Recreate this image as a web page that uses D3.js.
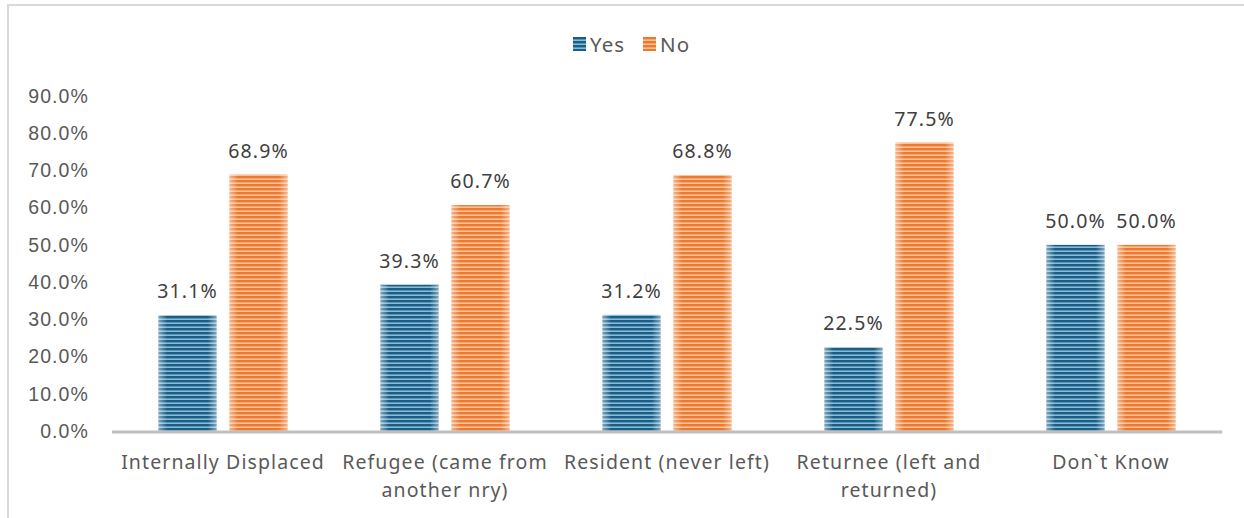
<!DOCTYPE html>
<html>
<head>
<meta charset="utf-8">
<script src="https://cdn.jsdelivr.net/npm/d3@7"></script>
<style>
  html, body { margin: 0; padding: 0; background: #fff; }
  svg { display: block; font-family: "Noto Sans", "Open Sans", sans-serif; }
  svg text { letter-spacing: 1.1px; }
</style>
</head>
<body>
<svg id="chart" width="1244" height="518"></svg>
<script>
// Residency status groups and share answering Yes / No
const categories = [
  "Internally Displaced",
  "Refugee (came from another nry)",
  "Resident (never left)",
  "Returnee (left and returned)",
  "Don`t Know"
];
const seriesNames = ["Yes", "No"];
const yesValues = [31.1, 39.3, 31.2, 22.5, 50.0];
const noValues = [68.9, 60.7, 68.8, 77.5, 50.0];
const yTicks = [0, 10, 20, 30, 40, 50, 60, 70, 80, 90];

const svg = d3.select("#chart");
const W = 1244, H = 518;
const margin = { left: 112, right: 22, top: 96, bottom: 87 };
const plotW = W - margin.left - margin.right;
const plotH = H - margin.top - margin.bottom;

const colors = {
  Yes: { dark: "#1b5d85", light: "#86bbd7" },
  No: { dark: "#ee782c", light: "#f8c29a" }
};

// Frame lines along the top and left edge
svg.append("path")
  .attr("d", "M8,520 V5 H1250")
  .attr("fill", "none").attr("stroke", "#d9d9d9").attr("stroke-width", 2);

// Striped fills and an edge sheen for the bars
const defs = svg.append("defs");
seriesNames.forEach(name => {
  const p = defs.append("pattern")
    .attr("id", "stripe-" + name)
    .attr("patternUnits", "userSpaceOnUse")
    .attr("width", 8).attr("height", 4);
  p.append("rect").attr("width", 8).attr("height", 4).attr("fill", colors[name].light);
  p.append("rect").attr("width", 8).attr("height", 2.4).attr("fill", colors[name].dark);
});
const sheen = defs.append("linearGradient").attr("id", "sheen")
  .attr("x1", "0").attr("x2", "1").attr("y1", "0").attr("y2", "0");
[[0, 0.45], [0.15, 0], [0.85, 0], [1, 0.45]].forEach(([o, a]) =>
  sheen.append("stop").attr("offset", o).attr("stop-color", "#fff").attr("stop-opacity", a));

const g = svg.append("g").attr("transform", `translate(${margin.left},${margin.top})`);

const x0 = d3.scaleBand().domain(categories).range([0, plotW]).paddingInner(0).paddingOuter(0);
const x1 = d3.scaleBand().domain(seriesNames).range([0, 129]).paddingInner(13 / 71);
const y = d3.scaleLinear().domain([0, 90]).range([plotH, 0]);

// Y axis labels
const yAxis = g.append("g").call(
  d3.axisLeft(y).tickValues(yTicks).tickSize(0).tickPadding(23)
    .tickFormat(d => d.toFixed(1) + "%")
);
yAxis.select(".domain").remove();
yAxis.selectAll("text").attr("fill", "#595959").style("font-size", "19.5px");

// Bars
const rows = categories.map((c, i) => ({ cat: c, Yes: yesValues[i], No: noValues[i] }));
const groups = g.selectAll(".grp").data(rows).join("g")
  .attr("transform", d => `translate(${x0(d.cat) + x0.bandwidth() / 2 - 64.5},0)`);

groups.each(function (d) {
  const gg = d3.select(this);
  seriesNames.forEach(s => {
    const bx = x1(s), bw = x1.bandwidth();
    gg.append("rect")
      .attr("x", bx).attr("width", bw)
      .attr("y", y(d[s])).attr("height", plotH - y(d[s]))
      .attr("fill", `url(#stripe-${s})`);
    gg.append("rect")
      .attr("x", bx).attr("width", bw)
      .attr("y", y(d[s])).attr("height", plotH - y(d[s]))
      .attr("fill", "url(#sheen)");
    gg.append("text")
      .attr("x", bx + bw / 2).attr("y", y(d[s]) - 17)
      .attr("text-anchor", "middle")
      .attr("fill", "#404040").style("font-size", "19.5px")
      .text(d[s].toFixed(1) + "%");
  });
});

// X axis line and wrapped category labels
g.append("line")
  .attr("x1", 0).attr("x2", plotW).attr("y1", plotH + 1).attr("y2", plotH + 1)
  .attr("stroke", "#bfbfbf").attr("stroke-width", 3);

function wrap(textSel, width) {
  textSel.each(function () {
    const text = d3.select(this);
    const words = text.text().split(/\s+/);
    const xPos = text.attr("x");
    text.text(null);
    let line = [];
    let tspan = text.append("tspan").attr("x", xPos).attr("dy", 0);
    words.forEach(w => {
      line.push(w);
      tspan.text(line.join(" "));
      if (tspan.node().getComputedTextLength() > width && line.length > 1) {
        line.pop();
        tspan.text(line.join(" "));
        line = [w];
        tspan = text.append("tspan").attr("x", xPos).attr("dy", "1.45em").text(w);
      }
    });
  });
}

g.selectAll(".cat").data(categories).join("text")
  .attr("class", "cat")
  .attr("x", d => x0(d) + x0.bandwidth() / 2)
  .attr("y", plotH + 38)
  .attr("text-anchor", "middle")
  .attr("fill", "#595959").style("font-size", "19.5px")
  .text(d => d)
  .call(wrap, 214);

// Legend
const legend = svg.append("g").attr("transform", "translate(573,37)");
seriesNames.forEach((s, i) => {
  const lg = legend.append("g").attr("transform", `translate(${i * 70},0)`);
  lg.append("rect").attr("width", 13).attr("height", 14).attr("fill", `url(#stripe-${s})`);
  lg.append("text").attr("x", 17).attr("y", 15)
    .attr("fill", "#595959").style("font-size", "20.5px").text(s);
});
</script>
</body>
</html>
